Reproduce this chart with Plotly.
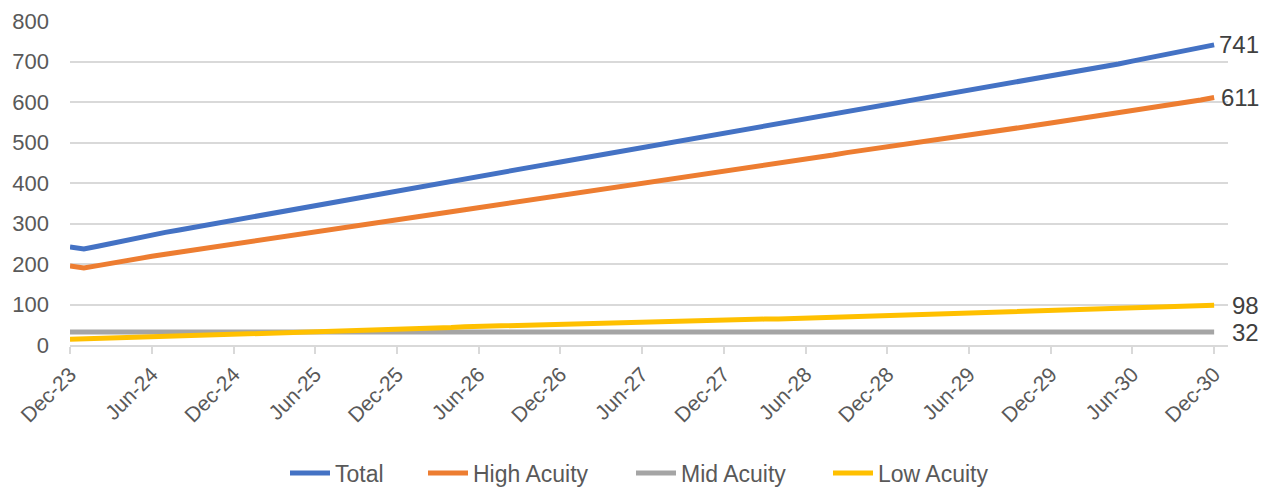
import pandas as pd
import plotly.graph_objects as go

# Monthly projection, Dec-2023 to Dec-2030
months = pd.date_range("2023-12-01", "2030-12-01", freq="MS")

total = [
    242, 237, 244, 251, 258, 265, 272,
    278, 284, 290, 296, 302, 308,
    314, 320, 326, 331, 337, 343,
    349, 355, 361, 368, 374, 380,
    386, 392, 398, 404, 410, 416,
    422, 428, 434, 440, 446, 452,
    458, 464, 470, 475, 481, 487,
    493, 498, 504, 510, 515, 521,
    527, 533, 539, 544, 550, 556,
    562, 568, 574, 580, 586, 592,
    598, 604, 610, 616, 622, 628,
    634, 639, 645, 651, 656, 662,
    668, 675, 681, 688, 694, 701,
    708, 714, 721, 728, 734, 741,
]

high_acuity = [
    195, 190, 196, 202, 208, 213, 219,
    224, 229, 234, 238, 243, 248,
    253, 258, 263, 268, 273, 278,
    283, 288, 294, 299, 304, 309,
    314, 319, 324, 329, 334, 339,
    344, 349, 354, 359, 364, 369,
    374, 379, 384, 389, 394, 399,
    404, 409, 414, 419, 424, 429,
    434, 439, 444, 449, 454, 459,
    464, 469, 475, 480, 485, 490,
    495, 500, 505, 510, 515, 520,
    525, 529, 534, 539, 543, 548,
    553, 558, 563, 568, 573, 578,
    583, 589, 594, 600, 605, 611,
]

mid_acuity = [
    32, 32, 32, 32, 32, 32, 32,
    32, 32, 32, 32, 32, 32,
    32, 32, 32, 32, 32, 32,
    32, 32, 32, 32, 32, 32,
    32, 32, 32, 32, 32, 32,
    32, 32, 32, 32, 32, 32,
    32, 32, 32, 32, 32, 32,
    32, 32, 32, 32, 32, 32,
    32, 32, 32, 32, 32, 32,
    32, 32, 32, 32, 32, 32,
    32, 32, 32, 32, 32, 32,
    32, 32, 32, 32, 32, 32,
    32, 32, 32, 32, 32, 32,
    32, 32, 32, 32, 32, 32,
]

low_acuity = [
    14, 15, 16, 17, 18, 19, 20,
    21, 22, 23, 23, 24, 25,
    26, 27, 28, 29, 30, 31,
    32, 33, 34, 36, 37, 38,
    39, 40, 42, 43, 45, 46,
    47, 48, 49, 50, 51, 52,
    53, 53, 54, 55, 55, 56,
    57, 58, 59, 59, 60, 61,
    62, 63, 64, 64, 65, 66,
    67, 68, 69, 70, 71, 72,
    73, 74, 75, 76, 77, 78,
    79, 80, 81, 81, 82, 83,
    84, 85, 86, 87, 88, 89,
    90, 92, 93, 95, 96, 98,
]

tick_labels = [
    "Dec-23", "Jun-24", "Dec-24", "Jun-25", "Dec-25", "Jun-26", "Dec-26",
    "Jun-27", "Dec-27", "Jun-28", "Dec-28", "Jun-29", "Dec-29", "Jun-30", "Dec-30",
]
tick_dates = pd.date_range("2023-12-01", "2030-12-01", freq="6MS")

series = [
    ("Total", total, "#4472C4"),
    ("High Acuity", high_acuity, "#ED7D31"),
    ("Mid Acuity", mid_acuity, "#A5A5A5"),
    ("Low Acuity", low_acuity, "#FFC000"),
]

FONT = "Liberation Sans, Arial, Helvetica, sans-serif"
TEXT = "#595959"
GRID = "#d9d9d9"

W, H = 1261, 487
ML, MR, MT, MB = 70, 33, 21, 142
plot_w = W - ML - MR
plot_h = H - MT - MB

# One legend per series so the entries can be spaced out along the bottom
legend_left_px = [285, 423, 631, 828]
legend_ids = ["legend", "legend2", "legend3", "legend4"]

fig = go.Figure()
for (name, values, color), lid in zip(series, legend_ids):
    fig.add_trace(go.Scatter(
        x=months, y=values, name=name, mode="lines",
        line=dict(color=color, width=5), legend=lid,
    ))

# End-of-series value labels, right aligned just past the plot area
label_x = 1 + (1261 - (W - MR)) / plot_w
for name, values, color in series:
    fig.add_annotation(
        x=label_x, xref="paper", y=values[-1], yref="y",
        text=str(values[-1]), showarrow=False,
        xanchor="right", yanchor="middle",
        font=dict(family=FONT, size=24, color="#404040"),
    )

legend_y = -(473 - (H - MB)) / plot_h
legend_layout = {}
for lid, left in zip(legend_ids, legend_left_px):
    legend_layout[lid] = dict(
        orientation="h", x=(left - ML) / plot_w, xanchor="left",
        y=legend_y, yanchor="middle",
        font=dict(family=FONT, size=23, color=TEXT),
        itemwidth=40, bgcolor="rgba(0,0,0,0)",
    )

fig.update_layout(
    width=W, height=H, autosize=False,
    margin=dict(l=ML, r=MR, t=MT, b=MB, autoexpand=False),
    paper_bgcolor="white", plot_bgcolor="white",
    font=dict(family=FONT, color=TEXT),
    showlegend=True,
    xaxis=dict(
        type="date", automargin=False,
        range=["2023-12-01", "2031-01-01"],
        tickvals=list(tick_dates), ticktext=tick_labels,
        tickangle=-45,
        tickfont=dict(family=FONT, size=21, color=TEXT),
        ticks="outside", ticklen=7, tickwidth=1.5, tickcolor=GRID,
        showline=True, linecolor=GRID, linewidth=1.5,
        showgrid=False, zeroline=False,
    ),
    yaxis=dict(
        range=[0, 800], dtick=100, automargin=False,
        tickfont=dict(family=FONT, size=22, color=TEXT),
        showgrid=True, gridcolor=GRID, gridwidth=1.5,
        zeroline=False, showline=False, ticks="",
        ticklabelstandoff=20,
    ),
    **legend_layout,
)

fig.write_html("out.html")
